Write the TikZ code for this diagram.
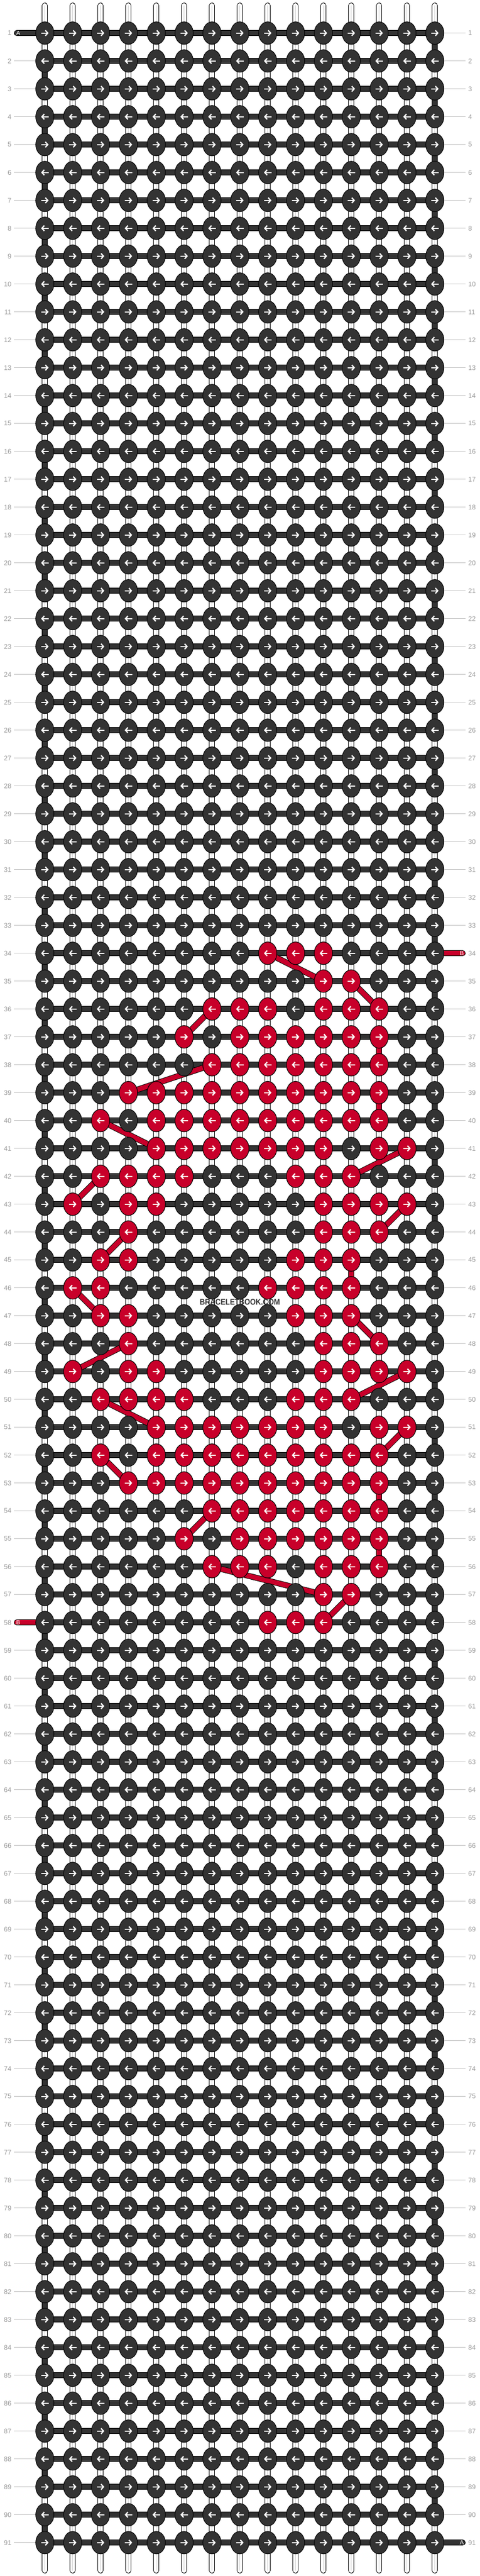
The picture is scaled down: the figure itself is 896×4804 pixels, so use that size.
\documentclass[tikz,border=0pt]{standalone}
\usepackage{fontspec}
\setmainfont{Liberation Sans}
\usetikzlibrary{shapes.geometric,arrows.meta}
\definecolor{knotdark}{HTML}{333333}
\definecolor{knotred}{RGB}{200,0,42}
\definecolor{labelgray}{HTML}{999999}
\definecolor{linegray}{HTML}{C0C0C0}
\definecolor{stringgray}{HTML}{D0D0D0}
\pgfdeclarelayer{strings}
\pgfdeclarelayer{bars}
\pgfsetlayers{strings,bars,main}
\tikzset{
  knot/.style={ellipse, draw=black, line width=1pt, fill=knotdark, minimum width=34pt, minimum height=42pt, inner sep=0pt},
  redknot/.style={knot, fill=knotred},
  knotarrow/.style={white, line width=2.3pt, -{Straight Barb[length=4.5pt, width=10pt, line width=2.3pt]}},
  bar/.style={draw=black, line width=1pt, double=knotdark, double distance=9pt},
  redbar/.style={bar, double=knotred},
  whitestring/.style={draw=black, line width=1pt, double=white, double distance=9pt, line cap=round},
  rowno/.style={text=labelgray, inner sep=0pt, font=\fontsize{12.5}{13}\selectfont},
  threadname/.style={text=white, inner sep=0pt, font=\fontsize{11}{11}\selectfont},
  rowline/.style={draw=linegray, line width=1pt}
}
\begin{document}
\begin{tikzpicture}[x=1pt,y=-1pt]
\useasboundingbox (0,0) rectangle (896,4804);% page 896 x 4804
% knots, rows 1 to 91
\foreach \r in {1,...,91} {
  \foreach \c in {1,...,15} {
    \pgfmathsetmacro\xx{83.7+52*(\c-1)}
    \pgfmathsetmacro\yy{61.7+52*(\r-1)}
    \node[knot] (k-\r-\c) at (\xx,\yy) {};
  }
}
% red knots (thread B)
\foreach \r/\cols in {34/{9,10,11}, 35/{11,12}, 36/{7,8,9,11,12,13}, 37/{6,8,9,10,11,12,13},
  38/{7,8,9,10,11,12,13}, 39/{4,5,6,7,8,9,10,11,12,13}, 40/{3,5,6,7,8,9,10,11,12,13},
  41/{5,6,7,8,9,10,11,13,14}, 42/{3,4,5,6,10,11,12}, 43/{2,4,5,11,12,13,14}, 44/{4,11,12,13},
  45/{3,4,10,11,12}, 46/{2,3,9,10,11,12}, 47/{3,4,10,11,12}, 48/{4,11,12,13},
  49/{2,4,5,11,12,13,14}, 50/{3,4,5,6,10,11,12}, 51/{5,6,7,8,9,10,11,13,14},
  52/{3,5,6,7,8,9,10,11,12,13}, 53/{4,5,6,7,8,9,10,11,12,13}, 54/{7,8,9,10,11,12,13},
  55/{6,8,9,10,11,12,13}, 56/{7,8,9,11,12,13}, 57/{11,12}, 58/{9,10,11}} {
  \foreach \c in \cols {
    \pgfmathsetmacro\xx{83.7+52*(\c-1)}
    \pgfmathsetmacro\yy{61.7+52*(\r-1)}
    \node[redknot] (k-\r-\c) at (\xx,\yy) {};
  }
}
% arrows: odd rows forward, even rows backward
\foreach \r in {1,...,91} {
  \ifodd\r \def\sgn{1}\else \def\sgn{-1}\fi
  \foreach \c in {1,...,15}
    \draw[knotarrow] ([xshift=-7*\sgn pt]k-\r-\c.center) -- ([xshift=7*\sgn pt]k-\r-\c.center);
}
% row numbers left and right
\foreach \r in {1,...,91} {
  \pgfmathsetmacro\yy{61.7+52*(\r-1)}
  \node[rowno, anchor=east] (nl-\r) at (21.5,\yy) {\r};
  \node[rowno, anchor=west] (nr-\r) at (874,\yy) {\r};
  \ifnum\r=1 \else\ifnum\r=58 \else
    \draw[rowline] ([xshift=4.5pt]nl-\r.east) -- (k-\r-1.west);
  \fi\fi
  \ifnum\r=34 \else\ifnum\r=91 \else
    \draw[rowline] (k-\r-15.east) -- ([xshift=-5pt]nr-\r.west);
  \fi\fi
}
% thread ends
\coordinate (a-in) at (31.5,61.7);% A comes in at row 1
\coordinate (a-out) at (863.5,4741.7);% A goes out at row 91
\coordinate (b-in) at (863.5,1777.7);% B comes in at row 34
\coordinate (b-out) at (31.5,3025.7);% B goes out at row 58
\node[threadname] (a-name-in) at (34,61.7) {A};
\node[threadname] (a-name-out) at (862,4741.7) {A};
\node[threadname] (b-name-in) at (862,1777.7) {B};
\node[threadname] (b-name-out) at (34,3025.7) {B};
\node[font=\bfseries\fontsize{15.4}{16}\selectfont, text=knotdark, inner sep=0pt, xscale=0.88] (mark) at (447.7,2427.7) {BRACELETBOOK.COM};
\begin{pgfonlayer}{bars}
\foreach \r in {1,...,91}
  \draw[bar] (k-\r-1.center) -- (k-\r-15.center);% row thread
\foreach \i in {1,...,45} {
  \pgfmathtruncatemacro\ra{2*\i}
  \pgfmathtruncatemacro\rb{2*\i+1}
  \pgfmathtruncatemacro\rc{2*\i-1}
  \draw[bar] (k-\ra-1.center) -- (k-\rb-1.center);% turn on the left
  \draw[bar] (k-\rc-15.center) -- (k-\ra-15.center);% turn on the right
}
\draw[bar, line cap=round] (a-in) -- (k-1-1.center);
\draw[bar, line cap=round] (a-out) -- (k-91-15.center);
\draw[redbar, line cap=round] (b-in) -- (k-34-15.center);
\draw[redbar, line cap=round] (b-out) -- (k-58-1.center);
% path of thread B from row to row
\foreach \ra/\ca/\rb/\cb in {34/9/35/11, 35/12/36/13, 36/7/37/6, 37/13/38/13, 38/7/39/4,
  39/13/40/13, 40/3/41/5, 41/14/42/12, 42/3/43/2, 43/14/44/13, 44/4/45/3, 45/12/46/12,
  46/2/47/3, 47/12/48/13, 48/4/49/2, 49/14/50/12, 50/3/51/5, 51/14/52/13, 52/3/53/4,
  53/13/54/13, 54/7/55/6, 55/13/56/13, 56/7/57/11, 57/12/58/11}
  \draw[redbar] (k-\ra-\ca.center) -- (k-\rb-\cb.center);
\end{pgfonlayer}
\begin{pgfonlayer}{strings}
\foreach \c in {1,...,15} {
  \pgfmathsetmacro\xx{83.7+52*(\c-1)}
  \coordinate (top-\c) at (\xx,10.5);
  \coordinate (bot-\c) at (\xx,4793.5);
  \draw[whitestring] (top-\c) -- (bot-\c);% vertical string
  \draw[stringgray, line width=0.8pt] (top-\c) -- (bot-\c);
}
\end{pgfonlayer}
\end{tikzpicture}
\end{document}
